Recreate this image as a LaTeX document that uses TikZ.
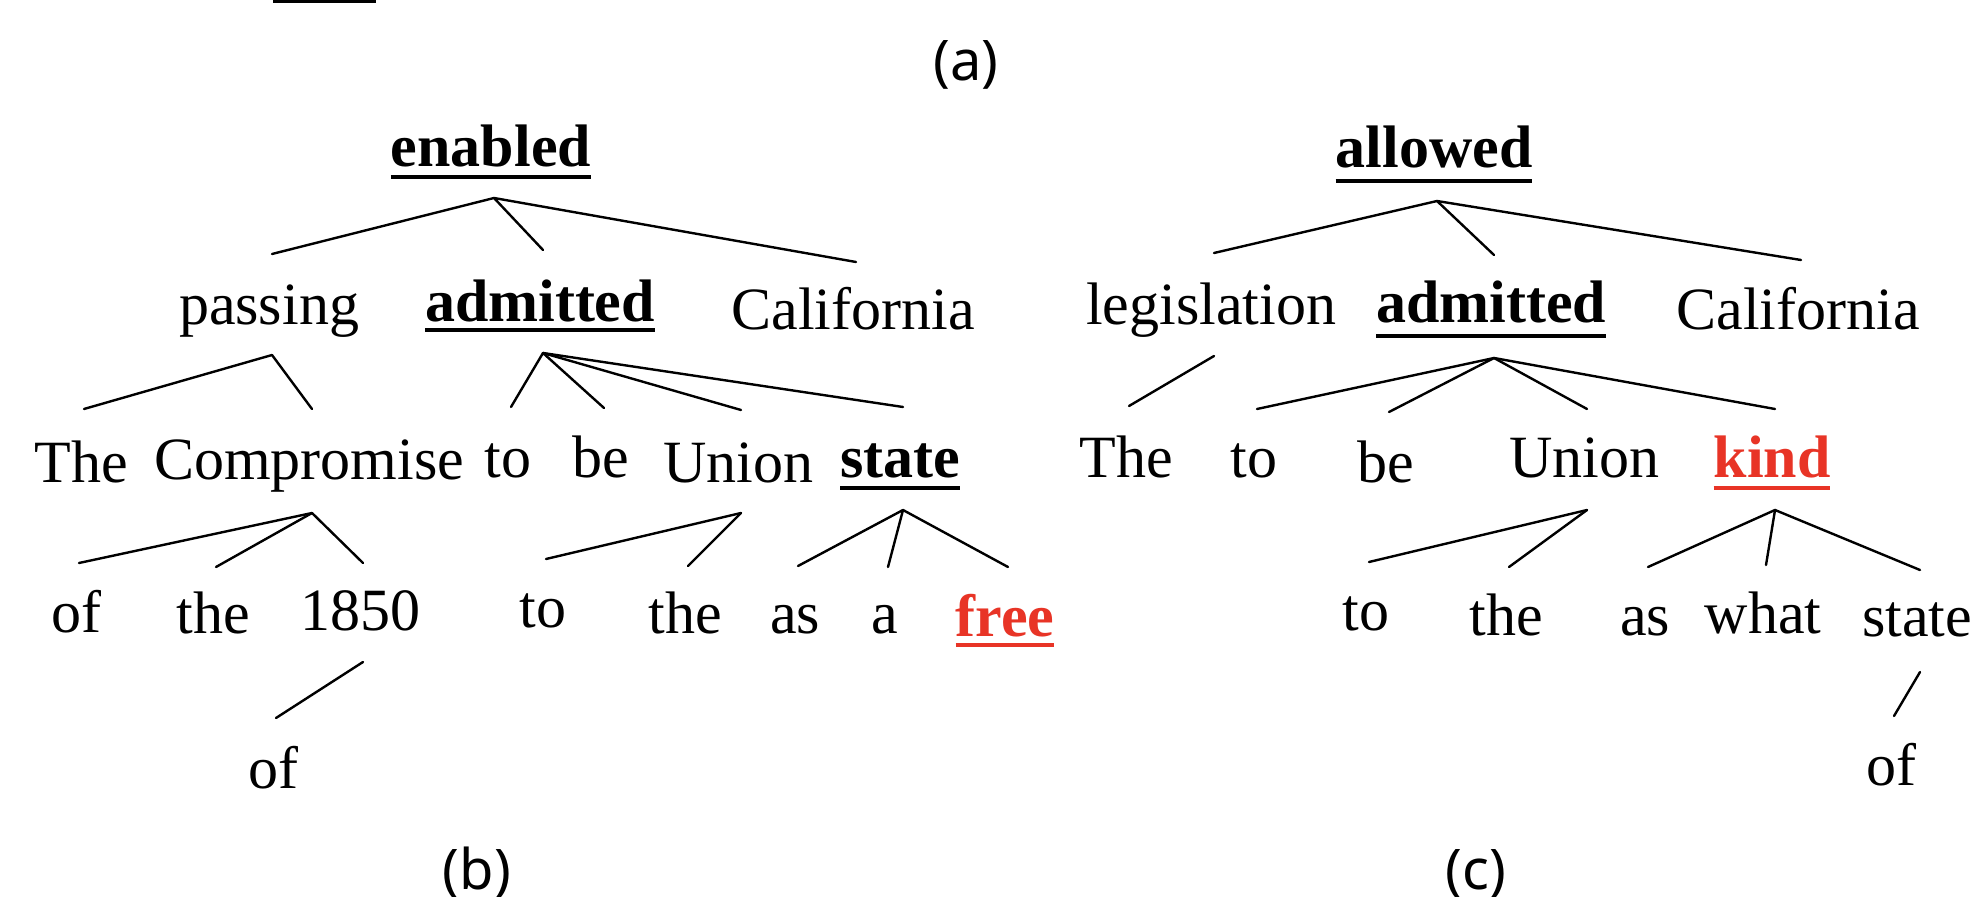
\documentclass[tikz,border=0pt]{standalone}
\usepackage{fontspec}
\setmainfont{Liberation Serif}
\newfontfamily\labfont{Noto Sans}
\usetikzlibrary{calc}
\definecolor{hired}{RGB}{232,52,38}
\newcommand\depedge[4]{\draw[edge] ($(#1 |- 0,#3)+(3,0)$) -- ($(#2 |- 0,#4)+(3,0)$);}
\newcommand\ulnode[3]{\draw[ul,#3] (#1.west |- 0,#2) -- (#1.east |- 0,#2);}
\begin{document}
\begin{tikzpicture}[x=0.5pt,y=-0.5pt,
  w/.style={inner sep=0pt, outer sep=0pt, anchor=base, font=\fontsize{30}{36}\selectfont},
  hw/.style={w, font=\fontsize{30}{36}\selectfont\bfseries},
  lab/.style={inner sep=0pt, outer sep=0pt, anchor=base, font=\fontsize{28}{34}\selectfont\labfont},
  edge/.style={line width=1.2pt, line cap=round},
  ul/.style={line width=2pt}
]
\useasboundingbox[fill=white] (0,0) rectangle (1973,897);
% fragment of a line at the very top
\fill (273,0) rectangle (376,3.5);

% labels
\node[lab] (la) at (966,81) {(a)};
\node[lab] (lb) at (477,889) {(b)};
\node[lab] (lc) at (1476,889) {(c)};

% ---------------- tree (b) ----------------
\node[hw] (enabled) at (491,167) {enabled};
\node[w] (passing) at (269,325) {passing};
\node[hw] (admb) at (540,322) {admitted};
\node[w] (califb) at (853,330) {California};
\node[w] (theb) at (81,482) {The};
\node[w] (comp) at (309,480) {Compromise};
\node[w] (tob) at (508,477) {to};
\node[w] (beb) at (601,477) {be};
\node[w] (unionb) at (738,482) {Union};
\node[hw] (stateb) at (900,477) {state};
\node[w] (ofb) at (76,632) {of};
\node[w] (theba) at (213,633) {the};
\node[w] (yr) at (360,630) {1850};
\node[w] (tobb) at (543,627) {to};
\node[w] (thebb) at (685,633) {the};
\node[w] (asb) at (795,633) {as};
\node[w] (ab) at (885,633) {a};
\node[hw,text=hired] (free) at (1005,636) {free};
\node[w] (ofbb) at (273,788) {of};

\ulnode{enabled}{177.5}{black}
\ulnode{admb}{330.5}{black}
\ulnode{stateb}{488}{black}
\ulnode{free}{644.5}{hired}

\depedge{enabled}{passing}{198}{254}
\depedge{enabled}{admb}{198}{250}
\depedge{enabled}{califb}{198}{262}
\depedge{passing}{theb}{355}{409}
\depedge{passing}{comp}{355}{409}
\depedge{admb}{tob}{353}{407}
\depedge{admb}{beb}{353}{408}
\depedge{admb}{unionb}{353}{410}
\depedge{admb}{stateb}{353}{407}
\depedge{comp}{ofb}{513}{563}
\depedge{comp}{theba}{513}{567}
\depedge{comp}{yr}{513}{563}
\depedge{unionb}{tobb}{513}{559}
\depedge{unionb}{thebb}{513}{566}
\depedge{stateb}{asb}{510}{566}
\depedge{stateb}{ab}{510}{567}
\depedge{stateb}{free}{510}{567}
\depedge{yr}{ofbb}{662}{718}

% ---------------- tree (c) ----------------
\node[hw] (allowed) at (1434,168) {allowed};
\node[w] (legis) at (1211,325) {legislation};
\node[hw] (admc) at (1491,323) {admitted};
\node[w] (califc) at (1798,330) {California};
\node[w] (thec) at (1126,478) {The};
\node[w] (toc) at (1254,478) {to};
\node[w] (bec) at (1386,482) {be};
\node[w] (unionc) at (1584,478) {Union};
\node[hw,text=hired] (kind) at (1772,477) {kind};
\node[w] (tocc) at (1366,630) {to};
\node[w] (thecc) at (1506,635) {the};
\node[w] (asc) at (1645,635) {as};
\node[w] (what) at (1763,633) {what};
\node[w] (statec) at (1917,636) {state};
\node[w] (ofc) at (1891,785) {of};

\ulnode{allowed}{181.5}{black}
\ulnode{admc}{336.5}{black}
\ulnode{kind}{488}{hired}

\depedge{allowed}{legis}{201}{253}
\depedge{allowed}{admc}{201}{255}
\depedge{allowed}{califc}{201}{260}
\depedge{legis}{thec}{356}{406}
\depedge{admc}{toc}{358}{409}
\depedge{admc}{bec}{358}{412}
\depedge{admc}{unionc}{358}{409}
\depedge{admc}{kind}{358}{409}
\depedge{unionc}{tocc}{510}{562}
\depedge{unionc}{thecc}{510}{567}
\depedge{kind}{asc}{510}{567}
\depedge{kind}{what}{510}{565}
\depedge{kind}{statec}{510}{570}
\depedge{statec}{ofc}{672}{716}
\end{tikzpicture}
\end{document}
